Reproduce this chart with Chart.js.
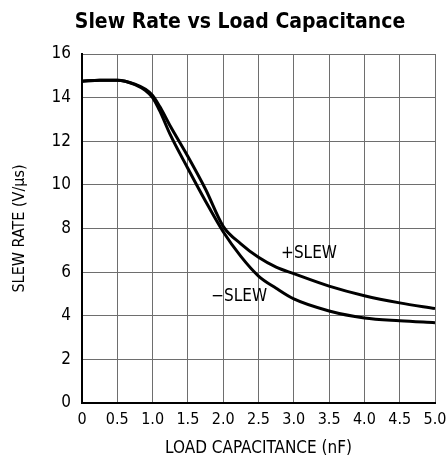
<!DOCTYPE html>
<html>
<head>
<meta charset="utf-8">
<script src="https://cdn.jsdelivr.net/npm/chart.js@4/dist/chart.umd.min.js"></script>
<style>
    body { margin: 0; background: #fff; }
    #contenedor { width: 448px; height: 462px; }
</style>
</head>
<body>
<div id="contenedor"><canvas id="grafico"></canvas></div>
<script>
// Datos
const capacitancia = [0, 0.25, 0.5, 0.75, 0.9, 1.0, 1.1, 1.25, 1.5, 1.75, 2.0, 2.25, 2.5, 2.75, 3.0, 3.5, 4.0, 4.5, 5.0];
const slewPositivo = [14.75, 14.8, 14.8, 14.62, 14.38, 14.1, 13.6, 12.7, 11.3, 9.8, 8.1, 7.3, 6.68, 6.23, 5.93, 5.36, 4.92, 4.59, 4.33];
const slewNegativo = [14.75, 14.8, 14.8, 14.6, 14.32, 14.0, 13.4, 12.3, 10.75, 9.25, 7.85, 6.72, 5.82, 5.26, 4.77, 4.22, 3.9, 3.77, 3.68];

// Etiquetas de los ejes
const etiquetasX = ['0', '0.5', '1.0', '1.5', '2.0', '2.5', '3.0', '3.5', '4.0', '4.5', '5.0'];
const etiquetasY = ['0', '2', '4', '6', '8', '10', '12', '14', '16'];

// Textos sobre las curvas: [texto, x, y]
const rotulos = [
    ['+SLEW', 2.82, 6.83],
    ['\u2212SLEW', 1.83, 4.9]
];

const titulo = 'Slew Rate vs Load Capacitance';
const fuente = "'Liberation Sans Narrow', 'DejaVu Sans Condensed', 'Roboto', sans-serif";

// Función para armar los puntos de una serie
function puntos(valores) {
    return capacitancia.map((c, i) => ({ x: c, y: valores[i] }));
}

// Plugin para escribir el título y los rótulos de las curvas
const pluginRotulos = {
    id: 'rotulos',
    afterDatasetsDraw(chart) {
        const ctx = chart.ctx;
        const escalaX = chart.scales.x;
        const escalaY = chart.scales.y;
        ctx.save();
        ctx.fillStyle = '#000';
        ctx.textBaseline = 'middle';

        // Título centrado sobre el gráfico
        ctx.font = 'bold 21px ' + fuente;
        ctx.textAlign = 'center';
        ctx.fillText(titulo, 240, 23);

        ctx.font = '17px ' + fuente;
        ctx.textAlign = 'left';
        rotulos.forEach(r => {
            ctx.fillText(r[0], escalaX.getPixelForValue(r[1]), escalaY.getPixelForValue(r[2]));
        });
        ctx.restore();
    }
};

const serie = (etiqueta, valores) => ({
    label: etiqueta,
    data: puntos(valores),
    borderColor: '#000',
    borderWidth: 3,
    pointRadius: 0,
    fill: false,
    cubicInterpolationMode: 'monotone'
});

new Chart(document.getElementById('grafico'), {
    type: 'line',
    data: {
        datasets: [serie('+SLEW', slewPositivo), serie('-SLEW', slewNegativo)]
    },
    options: {
        responsive: true,
        maintainAspectRatio: false,
        animation: false,
        layout: { padding: { left: 0, right: 13, top: 54, bottom: 0 } },
        plugins: {
            legend: { display: false },
            tooltip: { enabled: false },
            title: { display: false }
        },
        scales: {
            x: {
                type: 'linear',
                min: 0,
                max: 5,
                ticks: {
                    stepSize: 0.5,
                    color: '#000',
                    padding: 7,
                    maxRotation: 0,
                    font: { family: fuente, size: 16 },
                    callback: (v, i) => etiquetasX[i]
                },
                grid: { color: '#6e6e6e', lineWidth: 1, drawTicks: false },
                border: { color: '#000', width: 2 },
                title: {
                    display: true,
                    text: 'LOAD CAPACITANCE (nF)',
                    color: '#000',
                    font: { family: fuente, size: 17, lineHeight: 1.2 },
                    padding: { top: 0, bottom: 3 }
                },
                afterFit: escala => {
                    escala.height = 59;
                    escala.paddingLeft = 0;
                    escala.paddingRight = 0;
                }
            },
            y: {
                min: 0,
                max: 16,
                ticks: {
                    stepSize: 2,
                    color: '#000',
                    padding: 11,
                    font: { family: fuente, size: 17 },
                    callback: (v, i) => etiquetasY[i]
                },
                grid: { color: '#6e6e6e', lineWidth: 1, drawTicks: false },
                border: { color: '#000', width: 2 },
                title: {
                    display: true,
                    text: 'SLEW RATE (V/\u03bcs)',
                    color: '#000',
                    font: { family: fuente, size: 16, lineHeight: 1.2 },
                    padding: { top: 10, bottom: 0 }
                },
                afterFit: escala => { escala.width = 82; }
            }
        }
    },
    plugins: [pluginRotulos]
});
</script>
</body>
</html>
